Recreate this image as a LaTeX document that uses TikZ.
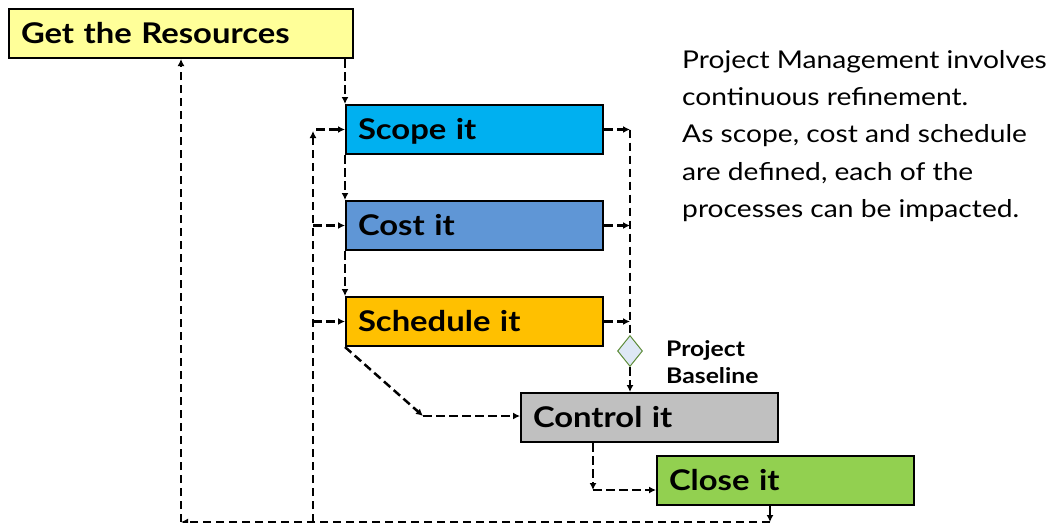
\documentclass[tikz,border=0pt]{standalone}
\usepackage{fontspec}
\setmainfont{Lato}[FakeStretch=1.15]
\usetikzlibrary{arrows.meta,positioning,calc,shapes.geometric}
\definecolor{resyellow}{HTML}{FFFF99}
\definecolor{scopeblue}{HTML}{00B0F0}
\definecolor{costblue}{HTML}{5F96D6}
\definecolor{schedorange}{HTML}{FFC000}
\definecolor{ctrlgray}{HTML}{C0C0C0}
\definecolor{closegreen}{HTML}{92D050}
\definecolor{basefill}{HTML}{DEE8F5}
\definecolor{basedraw}{HTML}{5E8C3A}

\begin{document}
\begin{tikzpicture}[x=1pt,y=-1pt,>={Latex[length=7pt,width=7pt]},
  stage/.style={draw,line width=2pt,anchor=north west,minimum height=49pt,inner xsep=12pt,text width=233pt,align=left,text height=20.5pt,text depth=0pt,font=\bfseries\fontsize{28.5}{30}\selectfont},
  flow/.style={->,line width=2.5pt,dash pattern=on 8.5pt off 4.5pt},
  link/.style={line width=2.5pt,dash pattern=on 8.5pt off 4.5pt}]
  \useasboundingbox (0,0) rectangle (1054,522);
  % the stages
  \node[stage,fill=resyellow,text width=320pt] (res) at (8,8) {Get the Resources};
  \node[stage,fill=scopeblue] (scope) at (345,104) {Scope it};
  \node[stage,fill=costblue] (cost) at (345,200) {Cost it};
  \node[stage,fill=schedorange] (sched) at (345,296) {Schedule it};
  \node[stage,fill=ctrlgray] (ctrl) at (520,392) {Control it};
  \node[stage,fill=closegreen] (close) at (656,455) {Close it};
  \node[diamond,draw=basedraw,fill=basefill,line width=1pt,inner sep=0pt,minimum width=25pt,minimum height=31pt] (base) at (630,351) {};
  \node[anchor=north west,inner sep=0pt,align=left,font=\bfseries\fontsize{21.5}{27}\selectfont] (baselbl) at (666,340) {Project\\Baseline};
  \node[anchor=north west,inner sep=0pt,align=left,font=\fontsize{24.5}{37.3}\selectfont] (note) at (682,50) {Project Management involves\\continuous refinement.\\As scope, cost and schedule\\are defined, each of the\\processes can be impacted.};
  % forward flow
  \draw[flow] (res.south -| scope.west) -- (scope.north west);
  \draw[flow] (scope.south west) -- (cost.north west);
  \draw[flow] (cost.south west) -- (sched.north west);
  % into the baseline
  \coordinate (rgt) at (base.north |- scope.east);
  \draw[flow] (scope.east) -- (rgt);
  \draw[flow] (cost.east) -- (rgt |- cost.east);
  \draw[flow] (sched.east) -- (rgt |- sched.east);
  \draw[link] (rgt) -- (base.north);
  \draw[flow] (base.south) -- (base.south |- ctrl.north);
  \coordinate (bend) at (423,416);
  \draw[flow] (sched.south west) -- (bend);
  \draw[flow] (bend) -- (bend -| ctrl.west);
  \coordinate (drop) at ($(ctrl.south west)+(73,0)$);
  \coordinate (hook) at ($(drop)+(0,47)$);
  \draw[flow] (drop) -- (hook);
  \draw[flow] (hook) -- (hook -| close.west);
  % feedback loop
  \coordinate (tail) at ($(close.south west)+(114,0)$);
  \coordinate (floor) at ($(tail)+(0,16)$);
  \draw[flow] (tail) -- (floor);
  \draw[flow] (floor) -- (floor -| res.south);
  \draw[flow] (floor -| res.south) -- (res.south);
  \coordinate (rise) at (floor -| 313,0);
  \coordinate (rtop) at (313,131);
  \draw[flow] (rise) -- (rtop);
  \draw[flow] ($(rtop |- scope.west)+(3,0)$) -- (scope.west);
  \draw[flow] (rtop |- cost.west) -- (cost.west);
  \draw[flow] (rtop |- sched.west) -- (sched.west);
\end{tikzpicture}
\end{document}
